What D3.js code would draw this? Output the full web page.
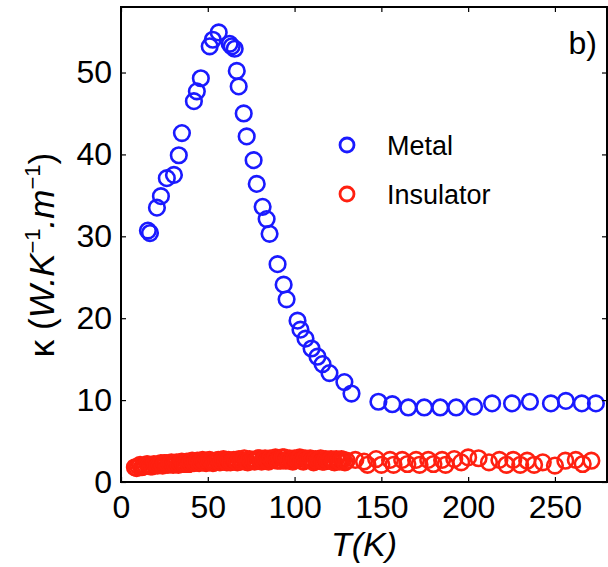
<!DOCTYPE html>
<html lang="en">
<head>
  <meta charset="UTF-8">
  <title>Thermal conductivity vs T</title>
  <script src="https://d3js.org/d3.v7.min.js"></script>
  <style>
    body { margin: 0; background: #fff; }
    svg { display: block; font-family: "Liberation Sans", Arial, sans-serif; }
    .tick text { font-size: 32px; fill: #000; }
    .legend-text { font-size: 27px; fill: #000; }
  </style>
</head>
<body>
  <div id="chart"></div>
  <script>
    // Metal (blue) series
    const metalT = [15.5, 16.7, 20.7, 23.0, 26.4, 30.5, 33.3, 35.1, 42.0, 43.7, 46.0,
      51.1, 52.9, 56.3, 62.6, 63.8, 65.5, 66.7, 67.8, 70.7, 72.4, 76.4, 78.2, 81.6,
      83.9, 85.6, 90.2, 93.7, 95.4, 101.7, 103.4, 106.3, 109.8, 113.2, 116.1, 120.1,
      128.7, 132.8, 148.3, 156.3, 165.5, 174.7, 183.9, 193.1, 203.4, 213.8, 225.3,
      235.6, 247.7, 256.3, 265.5, 273.6];
    const metalK = [30.7, 30.4, 33.5, 34.9, 37.1, 37.5, 39.9, 42.6, 46.5, 47.7, 49.3,
      53.2, 54.0, 54.9, 53.5, 53.2, 52.9, 50.2, 48.3, 45.0, 42.2, 39.3, 36.4, 33.6,
      32.1, 30.3, 26.6, 24.1, 22.3, 19.7, 18.6, 17.5, 16.3, 15.3, 14.4, 13.3,
      12.2, 10.8, 9.8, 9.5, 9.1, 9.1, 9.1, 9.1, 9.2, 9.6, 9.6, 9.8, 9.6, 9.9, 9.6, 9.6];

    // Insulator (red) series: dense low-T part, then sparser high-T part
    const insulatorT = [8, 9, 10, 11, 12, 13, 14, 15, 16, 17, 18, 19, 20, 21, 22, 23,
      24, 25, 26, 27, 28, 29, 30, 31, 32, 33, 34, 35, 36, 37, 38, 39, 40, 41, 42, 43,
      44, 45, 46, 47, 48, 49, 50, 51, 52, 53, 54, 55, 56, 57, 58, 59, 60, 61, 62, 63,
      64, 65, 66, 67, 68, 69, 70, 71, 72, 73, 74, 75, 76, 77, 78, 79, 80, 81, 82, 83,
      84, 85, 86, 87, 88, 89, 90, 91, 92, 93, 94, 95, 96, 97, 98, 99, 100, 101, 102,
      103, 104, 105, 106, 107, 108, 109, 110, 111, 112, 113, 114, 115, 116, 117, 118,
      119, 120, 121, 122, 123, 124, 125, 126, 127, 128, 129, 130,
      135, 140, 142, 147, 150, 155, 157, 162, 165, 170, 172, 177, 180, 185, 187, 192,
      196, 200, 206, 212, 218, 222, 226, 230, 234, 238, 243, 250, 256, 262, 266, 271];
    const insulatorK = [1.8, 1.7, 1.9, 2.1, 1.8, 1.9, 2.0, 2.2, 2.1, 1.9, 1.9, 2.2, 2.1,
      2.0, 2.2, 2.3, 2.0, 2.3, 2.3, 2.1, 2.2, 2.4, 2.1, 2.2, 2.4, 2.1, 2.3, 2.5, 2.2,
      2.3, 2.5, 2.2, 2.4, 2.6, 2.3, 2.4, 2.6, 2.3, 2.5, 2.7, 2.4, 2.3, 2.6, 2.7, 2.5,
      2.3, 2.4, 2.6, 2.7, 2.4, 2.6, 2.8, 2.5, 2.4, 2.7, 2.4, 2.5, 2.7, 2.6, 2.4, 2.8,
      2.5, 2.6, 2.9, 2.5, 2.4, 2.8, 2.6, 2.7, 2.5, 2.6, 2.9, 2.9, 2.5, 2.7, 2.9, 2.6,
      2.5, 2.9, 2.7, 2.8, 3.0, 2.6, 2.7, 2.6, 3.0, 3.0, 2.6, 2.7, 2.9, 2.6, 2.5, 2.9,
      2.7, 2.8, 3.0, 2.6, 2.5, 2.9, 2.7, 2.7, 2.9, 2.6, 2.4, 2.8, 2.6, 2.7, 2.9, 2.5,
      2.5, 2.8, 2.6, 2.6, 2.8, 2.5, 2.4, 2.8, 2.6, 2.5, 2.8, 2.7, 2.4, 2.6,
      2.7, 2.5, 2.1, 2.8, 2.1, 2.7, 2.1, 2.7, 2.2, 2.7, 2.1, 2.7, 2.2, 2.7, 2.1, 2.8,
      2.4, 3.0, 2.9, 2.4, 2.7, 2.1, 2.7, 2.1, 2.6, 2.1, 2.4, 2.0, 2.6, 2.7, 2.2, 2.6];

    const xTicks = [0, 50, 100, 150, 200, 250];
    const yTicks = [0, 10, 20, 30, 40, 50];
    const seriesNames = ["Metal", "Insulator"];
    const seriesColors = ["#1a1aff", "#ff2010"];

    const W = 608, H = 567;
    const pL = 121, pR = 607, pT = 7, pB = 482;

    const x = d3.scaleLinear().domain([0, 280]).range([pL, pR]);
    const y = d3.scaleLinear().domain([0, 58]).range([pB, pT]);

    const svg = d3.select("#chart").append("svg")
      .attr("width", W).attr("height", H);

    svg.append("defs").append("clipPath").attr("id", "plot")
      .append("rect").attr("x", pL).attr("y", pT)
      .attr("width", pR - pL).attr("height", pB - pT);

    // points
    const metal = metalT.map((t, i) => ({ t, k: metalK[i] }));
    const insulator = insulatorT.map((t, i) => ({ t, k: insulatorK[i] }));

    const pts = svg.append("g").attr("clip-path", "url(#plot)");
    [metal, insulator].forEach((data, s) => {
      pts.append("g").selectAll("circle")
        .data(data).enter().append("circle")
        .attr("cx", d => x(d.t))
        .attr("cy", d => y(d.k))
        .attr("r", 7.8)
        .attr("fill", "none")
        .attr("stroke", seriesColors[s])
        .attr("stroke-width", 2.6);
    });

    // axes (ticks inward on all four sides)
    const styleAxis = g => {
      g.select(".domain").remove();
      g.selectAll(".tick line").attr("stroke", "#000").attr("stroke-width", 1.2);
    };
    svg.append("g").attr("transform", `translate(0,${pB})`)
      .call(d3.axisBottom(x).tickValues(xTicks).tickSizeInner(-5).tickSizeOuter(0).tickPadding(13))
      .call(styleAxis);
    svg.append("g").attr("transform", `translate(0,${pT})`)
      .call(d3.axisTop(x).tickValues(xTicks).tickSizeInner(-5).tickSizeOuter(0).tickFormat(""))
      .call(styleAxis);
    svg.append("g").attr("transform", `translate(${pL},0)`)
      .call(d3.axisLeft(y).tickValues(yTicks).tickSizeInner(-5).tickSizeOuter(0).tickPadding(9))
      .call(styleAxis);
    svg.append("g").attr("transform", `translate(${pR},0)`)
      .call(d3.axisRight(y).tickValues(yTicks).tickSizeInner(-5).tickSizeOuter(0).tickFormat(""))
      .call(styleAxis);

    svg.selectAll("g[font-family]").attr("font-family", null).attr("font-size", null);

    // box
    svg.append("rect")
      .attr("x", pL).attr("y", pT)
      .attr("width", pR - pL).attr("height", pB - pT)
      .attr("fill", "none").attr("stroke", "#000").attr("stroke-width", 2);

    // axis titles
    svg.append("text")
      .attr("x", (pL + pR) / 2).attr("y", 556)
      .attr("text-anchor", "middle")
      .attr("font-size", 34).attr("font-style", "italic")
      .text("T(K)");

    const yl = svg.append("text")
      .attr("transform", "translate(54,255) rotate(-90)")
      .attr("text-anchor", "middle")
      .attr("font-size", 35);
    yl.append("tspan").text("κ (");
    yl.append("tspan").attr("font-style", "italic").text("W.K");
    yl.append("tspan").attr("font-size", 22).attr("dy", -14).text("−1");
    yl.append("tspan").attr("font-style", "italic").attr("dy", 14).text(".m");
    yl.append("tspan").attr("font-size", 22).attr("dy", -14).text("−1");
    yl.append("tspan").attr("dy", 14).text(")");

    // panel label
    svg.append("text")
      .attr("x", 597).attr("y", 54)
      .attr("text-anchor", "end")
      .attr("font-size", 32)
      .text("b)");

    // legend
    const legend = svg.append("g");
    seriesNames.forEach((name, i) => {
      const yy = 145 + i * 49;
      legend.append("circle")
        .attr("cx", 347).attr("cy", yy).attr("r", 7)
        .attr("fill", "none").attr("stroke", seriesColors[i]).attr("stroke-width", 2.8);
      legend.append("text")
        .attr("class", "legend-text")
        .attr("x", 387).attr("y", yy + 10)
        .text(name);
    });
  </script>
</body>
</html>
